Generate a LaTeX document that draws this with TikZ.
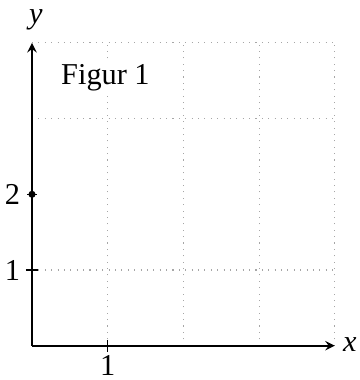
\documentclass[tikz,border=0pt]{standalone}
\usepackage{fontspec}
\setmainfont{Liberation Serif}
\begin{document}
\begin{tikzpicture}[>=stealth, font=\fontsize{11.4}{13}\selectfont]
    \useasboundingbox (-0.423,-0.453) rectangle (4.32,4.567);
    % rutenett
    \foreach \i in {1,2,3,4}
        \draw[gray!70, dotted] (\i,0) -- (\i,4);
    \foreach \j in {1,3,4}
        \draw[gray!70, dotted] (0,\j) -- (4,\j);

    % akser
    \coordinate (O) at (0,0);
    \coordinate (xend) at (4,0);
    \coordinate (yend) at (0,4);
    \draw[->, semithick] (O) -- (xend);
    \draw[->, semithick] (O) -- (yend);
    \node (xlab) at (4.2,0.02) {\textit{x}};
    \node (ylab) at (0.05,4.3) {\textit{y}};

    % merker
    \draw (-0.08,1) -- (0.08,1);
    \draw (1,-0.08) -- (1,0.08);
    \draw (-0.06,2) -- (0.06,2);
    \node (y1) at (-0.26,1) {1};
    \node (y2) at (-0.26,2) {2};
    \node (x1) at (1,-0.26) {1};

    % punkt
    \fill (0,2) circle (0.047);

    % tittel
    \node[fill=white, inner sep=1pt] (tittel) at (0.97,3.54) {Figur 1};
\end{tikzpicture}
\end{document}
